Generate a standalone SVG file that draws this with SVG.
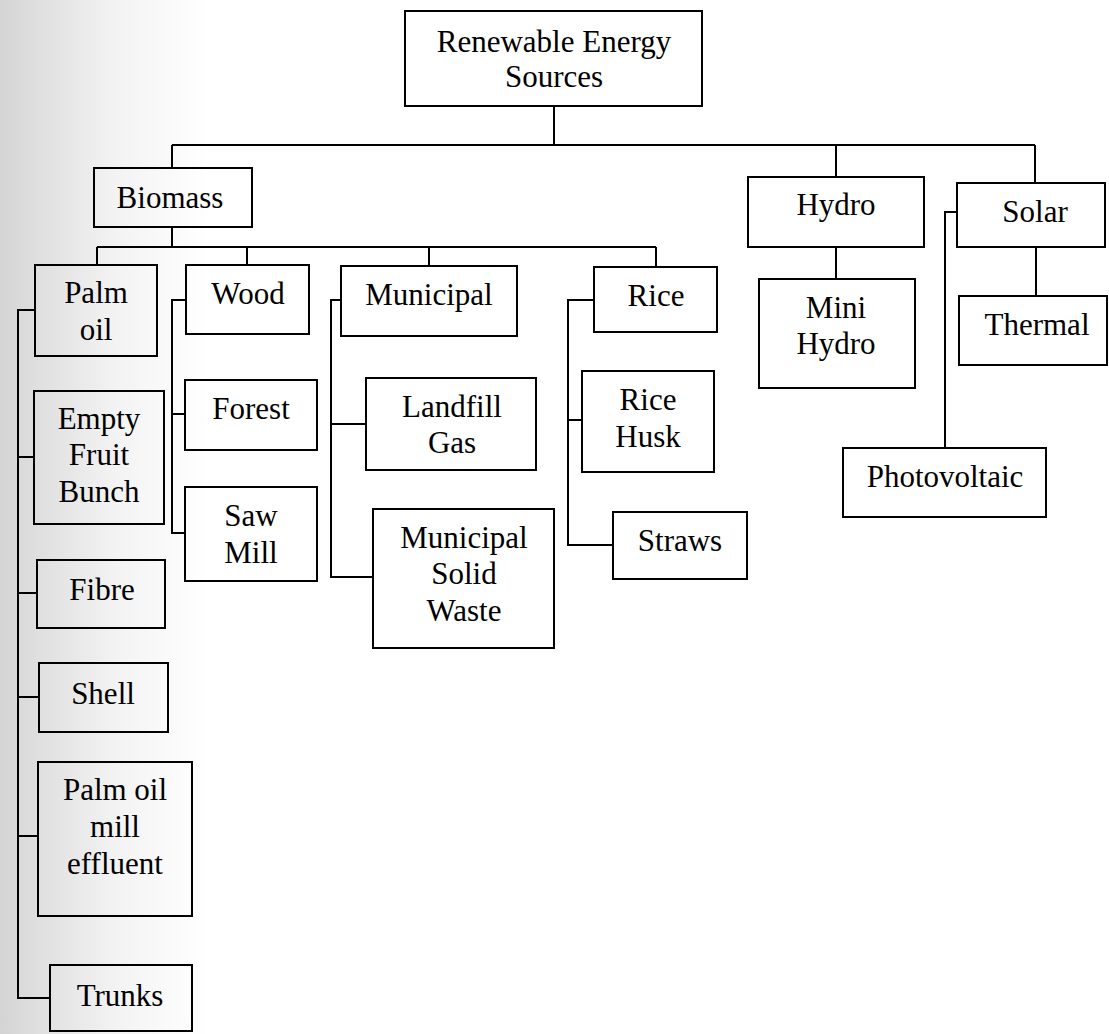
<svg xmlns="http://www.w3.org/2000/svg" width="1109" height="1034" viewBox="0 0 1109 1034">
<defs>
<linearGradient id="bg" x1="0" y1="0" x2="1" y2="0">
<stop offset="0" stop-color="#d4d4d4"/>
<stop offset="0.2" stop-color="#e0e0e0"/>
<stop offset="0.55" stop-color="#f3f3f3"/>
<stop offset="1" stop-color="#ffffff"/>
</linearGradient>
</defs>
<style>
.box{fill:none;stroke:#000;stroke-width:2}
.ln{fill:none;stroke:#000;stroke-width:2}
text{font-family:"Liberation Serif","Times New Roman",serif;font-size:31px;fill:#000;text-anchor:middle}
</style>
<rect width="1109" height="1034" fill="#fff"/>
<rect x="0" y="0" width="210" height="1034" fill="url(#bg)"/>
<g id="connectors">
<path class="ln" d="M554 106 V145 M172 145 H1035 M172 145 V168 M836 145 V177 M1035 145 V183"/>
<path class="ln" d="M172 227 V247 M97 247 H656 M97 247 V265 M247 247 V265 M429 247 V266 M656 247 V267"/>
<path class="ln" d="M35 310 H18 V998 H50 M18 457 H34 M18 593 H37 M18 697 H39 M18 836 H38"/>
<path class="ln" d="M186 300 H172 V533 H185 M172 414 H185"/>
<path class="ln" d="M341 300 H331 V577 H373 M331 424 H366"/>
<path class="ln" d="M594 300 H568 V545 H613 M568 420 H582"/>
<path class="ln" d="M836 247 V279 M1036 247 V296 M957 212 H945 V448"/>
</g>
<g id="root"><rect class="box" x="405" y="11" width="297" height="95"/><text x="554" y="52">Renewable Energy</text><text x="554" y="87">Sources</text></g>
<g id="biomass"><rect class="box" x="94" y="168" width="158" height="59"/><text x="170" y="208">Biomass</text></g>
<g id="hydro"><rect class="box" x="748" y="177" width="176" height="70"/><text x="836" y="215">Hydro</text></g>
<g id="solar"><rect class="box" x="957" y="183" width="148" height="64"/><text x="1035" y="222">Solar</text></g>
<g id="minihydro"><rect class="box" x="759" y="279" width="156" height="109"/><text x="836" y="318">Mini</text><text x="836" y="354">Hydro</text></g>
<g id="thermal"><rect class="box" x="959" y="296" width="148" height="69"/><text x="1037" y="335">Thermal</text></g>
<g id="photovoltaic"><rect class="box" x="843" y="448" width="203" height="69"/><text x="945" y="487">Photovoltaic</text></g>
<g id="palmoil"><rect class="box" x="35" y="265" width="122" height="91"/><text x="96" y="303">Palm</text><text x="96" y="340">oil</text></g>
<g id="efb"><rect class="box" x="34" y="391" width="130" height="133"/><text x="99" y="429">Empty</text><text x="99" y="465">Fruit</text><text x="99" y="502">Bunch</text></g>
<g id="fibre"><rect class="box" x="37" y="560" width="128" height="68"/><text x="102" y="600">Fibre</text></g>
<g id="shell"><rect class="box" x="39" y="663" width="129" height="69"/><text x="103" y="704">Shell</text></g>
<g id="pome"><rect class="box" x="38" y="762" width="154" height="154"/><text x="115" y="800">Palm oil</text><text x="115" y="837">mill</text><text x="115" y="874">effluent</text></g>
<g id="trunks"><rect class="box" x="50" y="965" width="142" height="66"/><text x="120" y="1006">Trunks</text></g>
<g id="wood"><rect class="box" x="186" y="265" width="123" height="69"/><text x="248" y="304">Wood</text></g>
<g id="forest"><rect class="box" x="185" y="380" width="132" height="70"/><text x="251" y="419">Forest</text></g>
<g id="sawmill"><rect class="box" x="185" y="487" width="132" height="94"/><text x="251" y="526">Saw</text><text x="251" y="563">Mill</text></g>
<g id="municipal"><rect class="box" x="341" y="266" width="176" height="70"/><text x="429" y="305">Municipal</text></g>
<g id="landfill"><rect class="box" x="366" y="378" width="170" height="92"/><text x="452" y="417">Landfill</text><text x="452" y="453">Gas</text></g>
<g id="msw"><rect class="box" x="373" y="509" width="181" height="139"/><text x="464" y="548">Municipal</text><text x="464" y="584">Solid</text><text x="464" y="621">Waste</text></g>
<g id="rice"><rect class="box" x="594" y="267" width="123" height="65"/><text x="656" y="306">Rice</text></g>
<g id="ricehusk"><rect class="box" x="582" y="371" width="132" height="101"/><text x="648" y="410">Rice</text><text x="648" y="447">Husk</text></g>
<g id="straws"><rect class="box" x="613" y="512" width="134" height="67"/><text x="680" y="551">Straws</text></g>
</svg>
